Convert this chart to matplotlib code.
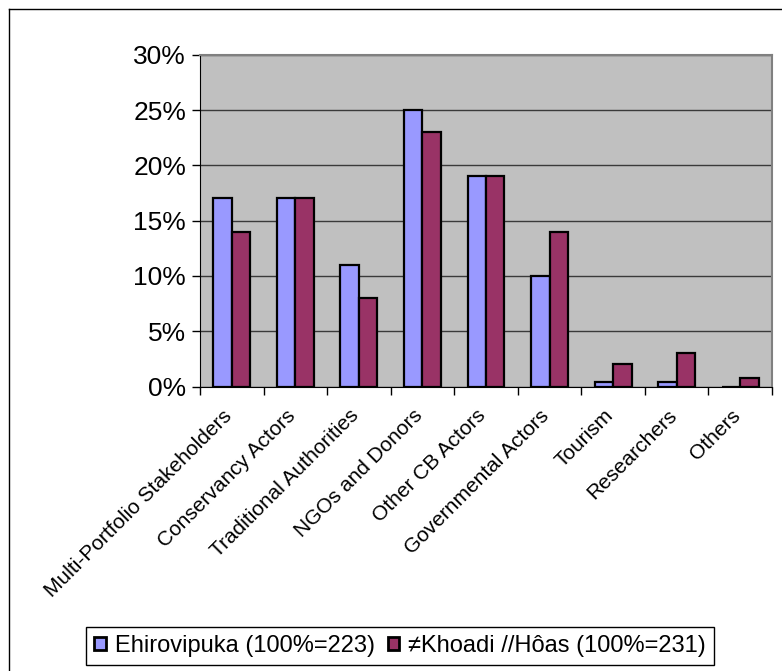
import matplotlib
matplotlib.use("Agg")
import matplotlib.pyplot as plt
import numpy as np
from matplotlib.lines import Line2D
from matplotlib.transforms import ScaledTranslation

categories = ["Multi-Portfolio Stakeholders", "Conservancy Actors", "Traditional Authorities",
              "NGOs and Donors", "Other CB Actors", "Governmental Actors", "Tourism",
              "Researchers", "Others"]
ehirovipuka = [17, 17, 11, 25, 19, 10, 0.4, 0.4, 0]
khoadi = [14, 17, 8, 23, 19, 14, 2, 3, 0.8]
series_names = ["Ehirovipuka (100%=223)", "\u2260Khoadi //H\u00f4as (100%=231)"]
yticks = [0, 5, 10, 15, 20, 25, 30]

plt.rcParams['font.family'] = ['Liberation Sans', 'DejaVu Sans']

fig = plt.figure(figsize=(7.82, 6.71), dpi=100)
W, H = 782, 671
ax = fig.add_axes([200 / W, 1 - 386.5 / H, 572 / W, (386.5 - 54.7) / H])
ax.set_facecolor("#C0C0C0")

x = np.arange(len(categories))
bw = 0.29
ax.bar(x - bw / 2, ehirovipuka, bw, color="#9999FF", edgecolor="black", linewidth=1.6,
       label=series_names[0], zorder=3)
ax.bar(x + bw / 2, khoadi, bw, color="#993366", edgecolor="black", linewidth=1.6,
       label=series_names[1], zorder=3)

ax.set_xlim(-0.5, len(categories) - 0.5)
ax.set_ylim(0, 30)
ax.set_yticks(yticks)
ax.set_yticklabels([f"{v}%" for v in yticks], fontsize=19)
ax.yaxis.grid(True, color="#3a3a3a", linewidth=1.0, zorder=0)
ax.tick_params(axis='y', direction='out', length=6, width=1, pad=4)

ax.set_xticks(x)
ax.set_xticklabels(categories, rotation=45, ha='right', va='center', rotation_mode='anchor',
                   fontsize=15)
ax.tick_params(axis='x', which='major', length=0, pad=19)
offset = ScaledTranslation(-3 / 100, 0, fig.dpi_scale_trans)
for lab in ax.get_xticklabels():
    lab.set_transform(lab.get_transform() + offset)
ax.set_xticks(np.arange(len(categories) + 1) - 0.5, minor=True)
ax.tick_params(axis='x', which='minor', direction='out', length=5.5, width=1)

for s in ['top', 'right']:
    ax.spines[s].set_color('#808080')
    ax.spines[s].set_linewidth(1.5)
ax.spines['left'].set_color('black')
ax.spines['bottom'].set_color('black')

leg = fig.legend(loc='center', bbox_to_anchor=((77 + 723) / 2 / W, 1 - 646 / H),
                 ncol=2, fontsize=17, frameon=True, fancybox=False, edgecolor='black',
                 framealpha=1, borderpad=0.35, handlelength=0.5, handleheight=0.5,
                 handletextpad=0.38, columnspacing=0.55, borderaxespad=0)
leg.get_frame().set_linewidth(1.0)
for h in leg.legend_handles:
    h.set_linewidth(2.0)

# outer chart frame (left and top visible)
fig.add_artist(Line2D([8.5 / W, 8.5 / W], [0, 1 - 8.5 / H], color='black', linewidth=1,
                      transform=fig.transFigure))
fig.add_artist(Line2D([8.5 / W, 1], [1 - 8.5 / H, 1 - 8.5 / H], color='black', linewidth=1,
                      transform=fig.transFigure))

fig.savefig("out.png", dpi=100)
